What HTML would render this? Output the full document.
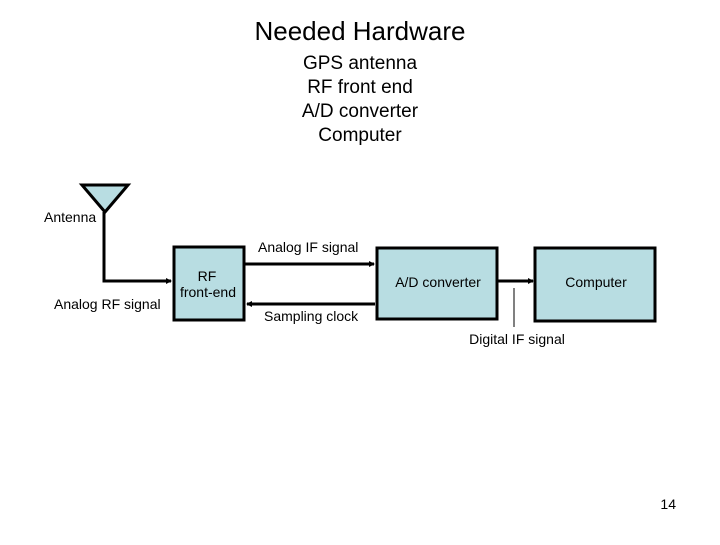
<!DOCTYPE html>
<html><head><style>
body{margin:0;width:720px;height:540px;background:#fff;font-family:"Liberation Sans",sans-serif;overflow:hidden}
</style></head><body>
<svg width="720" height="540" xmlns="http://www.w3.org/2000/svg" font-family="Liberation Sans, sans-serif">
<text x="360" y="40" font-size="26" text-anchor="middle">Needed Hardware</text>
<g font-size="19" text-anchor="middle">
<text x="360" y="69">GPS antenna</text>
<text x="360" y="93">RF front end</text>
<text x="360" y="117">A/D converter</text>
<text x="360" y="141">Computer</text>
</g>
<defs><marker id="a" markerWidth="6" markerHeight="6" refX="5" refY="3" orient="auto" markerUnits="userSpaceOnUse"><path d="M0,0L6,3L0,6z" fill="#000"/></marker></defs>
<polygon points="82,185 128,185 105,212" fill="#b8dde2" stroke="#000" stroke-width="3"/>
<polyline points="104,212 104,281 171,281" fill="none" stroke="#000" stroke-width="3" marker-end="url(#a)"/>
<rect x="174" y="247" width="70" height="73" fill="#b8dde2" stroke="#000" stroke-width="3"/>
<line x1="245" y1="264" x2="374" y2="264" stroke="#000" stroke-width="3" marker-end="url(#a)"/>
<line x1="375" y1="304" x2="247" y2="304" stroke="#000" stroke-width="3" marker-end="url(#a)"/>
<rect x="377" y="248" width="120" height="71" fill="#b8dde2" stroke="#000" stroke-width="3"/>
<line x1="498" y1="281" x2="533" y2="281" stroke="#000" stroke-width="3" marker-end="url(#a)"/>
<rect x="535" y="248" width="120" height="73" fill="#b8dde2" stroke="#000" stroke-width="3"/>
<line x1="514" y1="288" x2="514" y2="327" stroke="#000" stroke-width="1"/>
<g font-size="14">
<text x="44" y="222">Antenna</text>
<text x="258" y="252">Analog IF signal</text>
<text x="54" y="309">Analog RF signal</text>
<text x="207" y="281" text-anchor="middle">RF</text>
<text x="208" y="297" text-anchor="middle">front-end</text>
<text x="438" y="287" text-anchor="middle">A/D converter</text>
<text x="596" y="287" text-anchor="middle">Computer</text>
<text x="264" y="321">Sampling clock</text>
<text x="517" y="344" text-anchor="middle">Digital IF signal</text>
<text x="676" y="509" text-anchor="end">14</text>
</g>
</svg>
</body></html>
